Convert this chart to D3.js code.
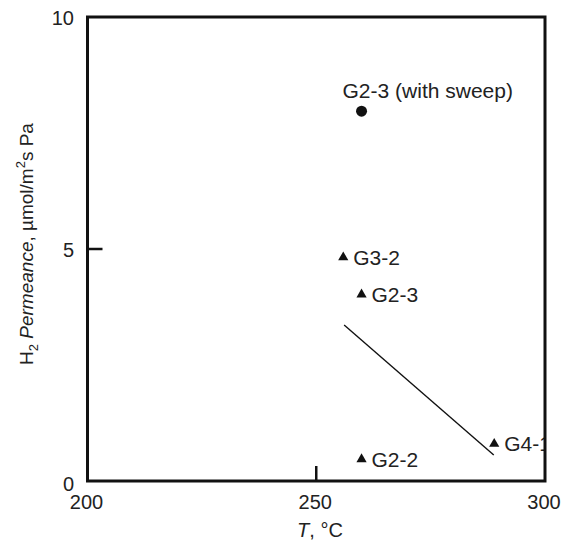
<!DOCTYPE html>
<html lang="en">
<head>
  <meta charset="UTF-8">
  <title>H2 permeance</title>
  <style>
    body { margin: 0; background: #ffffff }
    #thesvg { width: 562px; height: 545px; display: block }
    text { font-family: "Liberation Sans", Arial, sans-serif; fill: #222 }
  </style>
</head>
<body>
  <script src="https://d3js.org/d3.v7.min.js"></script>
  <svg id="thesvg"></svg>
  <script>

    // membranes (triangles)
    var names = ["G3-2", "G2-3", "G2-2", "G4-1"];
    var temps = [255.9, 259.9, 259.9, 288.9];
    var perms = [4.82, 4.02, 0.47, 0.80];

    // with sweep gas (circle)
    var sweepName = "G2-3 (with sweep)";
    var sweepTemp = 259.9;
    var sweepPerm = 7.97;

    // trend line
    var lineTemps = [256.1, 288.8];
    var linePerms = [3.36, 0.56];

    var xTicks = [200, 250, 300];
    var yTicks = [0, 5, 10];

    var svg = d3.select("svg");

    var x = d3.scaleLinear().domain([200, 300]).range([87.5, 545]);
    var y = d3.scaleLinear().domain([0, 10]).range([481, 17]);

    // labels get cut at the frame, like in the original
    svg.append("defs").append("clipPath")
      .attr("id", "plotclip")
      .append("rect")
      .attr("x", x(200)).attr("y", y(10))
      .attr("width", x(300) - x(200))
      .attr("height", y(0) - y(10));

    // inner ticks, only the middle ones
    svg.append("line")
      .attr("x1", x(250)).attr("x2", x(250))
      .attr("y1", y(0)).attr("y2", y(0) - 15)
      .attr("stroke", "#111").attr("stroke-width", 2.5);
    svg.append("line")
      .attr("x1", x(200)).attr("x2", x(200) + 15)
      .attr("y1", y(5)).attr("y2", y(5))
      .attr("stroke", "#111").attr("stroke-width", 2.5);

    svg.selectAll(".xt")
      .data(xTicks)
      .enter()
      .append("text")
      .attr("x", d => x(d) - 1)
      .attr("y", y(0) + 28)
      .attr("text-anchor", "middle")
      .style("font-size", "20px")
      .text(d => d);

    svg.selectAll(".yt")
      .data(yTicks)
      .enter()
      .append("text")
      .attr("x", d => x(200) - 13.5)
      .attr("y", d => d == 0 ? y(0) + 10 : y(d) + 8)
      .attr("text-anchor", "end")
      .style("font-size", "20px")
      .text(d => d);

    // trend line
    svg.append("line")
      .attr("x1", x(lineTemps[0])).attr("y1", y(linePerms[0]))
      .attr("x2", x(lineTemps[1])).attr("y2", y(linePerms[1]))
      .attr("stroke", "#111").attr("stroke-width", 1.4);

    var tri = d3.symbol().type(d3.symbolTriangle).size(45);
    var pts = names.map((n, i) => ({ name: n, t: temps[i], p: perms[i] }));

    svg.selectAll(".tri")
      .data(pts)
      .enter()
      .append("path")
      .attr("d", tri)
      .attr("transform", d => "translate(" + x(d.t) + "," + y(d.p) + ")")
      .attr("fill", "#111");

    svg.append("g")
      .attr("clip-path", "url(#plotclip)")
      .selectAll(".lab")
      .data(pts)
      .enter()
      .append("text")
      .attr("x", d => x(d.t) + 10)
      .attr("y", d => y(d.p) + 7.5)
      .style("font-size", "21px")
      .text(d => d.name);

    svg.append("circle")
      .attr("cx", x(sweepTemp))
      .attr("cy", y(sweepPerm))
      .attr("r", 5.5)
      .attr("fill", "#111");

    svg.append("text")
      .attr("x", x(sweepTemp) - 19)
      .attr("y", y(sweepPerm) - 13)
      .style("font-size", "21px")
      .text(sweepName);

    // frame on top
    svg.append("rect")
      .attr("x", x(200)).attr("y", y(10))
      .attr("width", x(300) - x(200))
      .attr("height", y(0) - y(10))
      .attr("fill", "none")
      .attr("stroke", "#111")
      .attr("stroke-width", 3);

    // axis titles
    var xl = svg.append("text")
      .attr("x", 320)
      .attr("y", 537)
      .attr("text-anchor", "middle")
      .style("font-size", "20px");
    xl.append("tspan").style("font-style", "italic").text("T");
    xl.append("tspan").text(", °C");

    var yl = svg.append("text")
      .attr("transform", "translate(33,244) rotate(-90)")
      .attr("text-anchor", "middle")
      .style("font-size", "19px");
    yl.append("tspan").text("H");
    yl.append("tspan").attr("dy", 5).style("font-size", "13px").text("2");
    yl.append("tspan").attr("dy", -5).text(" ");
    yl.append("tspan").style("font-style", "italic").text("Permeance");
    yl.append("tspan").text(", µmol/m");
    yl.append("tspan").attr("dy", -8).style("font-size", "13px").text("2");
    yl.append("tspan").attr("dy", 8).text("s Pa");
  </script>
</body>
</html>
